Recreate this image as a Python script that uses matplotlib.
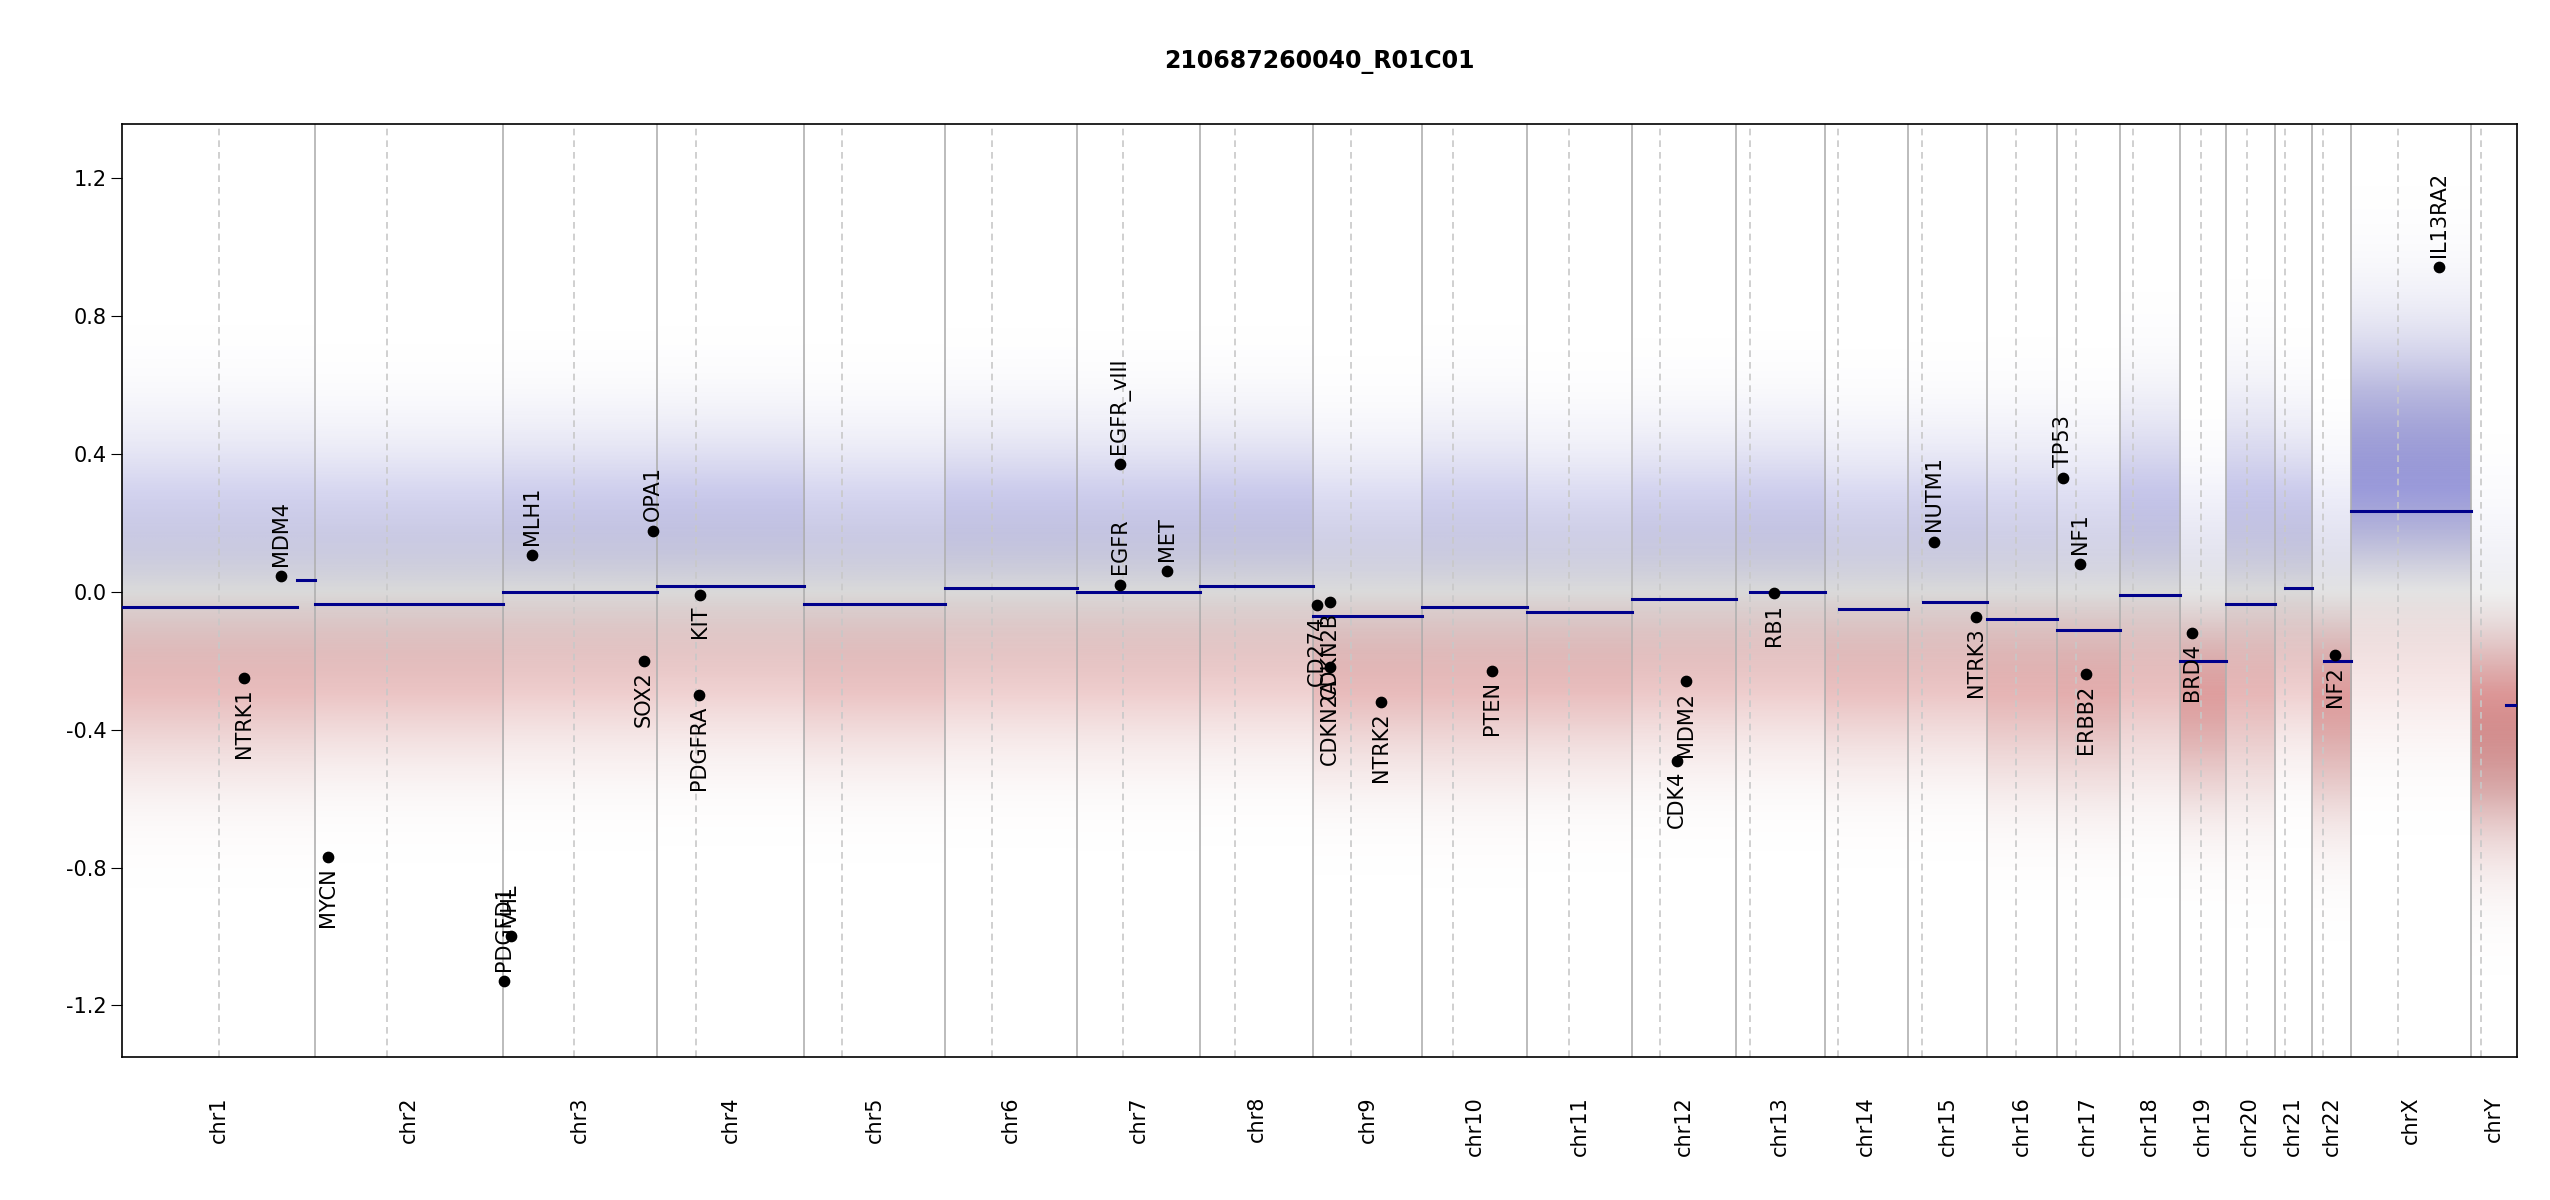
import numpy as np
import matplotlib
matplotlib.use("Agg")
import matplotlib.pyplot as plt
from matplotlib.colors import LinearSegmentedColormap

chroms = ["chr%d" % i for i in range(1, 23)] + ["chrX", "chrY"]
chrom_len = [249, 243, 198, 191, 181, 171, 159, 146, 141, 136, 135, 134, 115, 107,
             103, 90, 81, 78, 59, 63, 48, 51, 155, 59]
centro = [125, 93.3, 91, 50.4, 48.4, 61, 59.9, 45.6, 49, 40.2, 53.7, 35.8, 17.9, 17.6,
          19, 36.6, 24, 17.2, 26.5, 27.5, 13.2, 14.7, 60.6, 12.5]

# segments: chromosome, start (Mb), end (Mb), mean
seg_chrom = ["chr1", "chr1", "chr2", "chr3", "chr4", "chr5", "chr6", "chr7", "chr8", "chr9",
             "chr10", "chr11", "chr12", "chr13", "chr14", "chr15", "chr16", "chr17", "chr18",
             "chr19", "chr20", "chr21", "chr22", "chrX", "chrY"]
seg_start = [0, 225, 0, 0, 0, 0, 0, 0, 0, 0, 0, 0, 0, 19, 19, 20, 0, 0, 0, 0, 0, 14, 16, 0, 45]
seg_end = [225, 249, 243, 198, 191, 181, 171, 159, 146, 141, 136, 135, 134, 115, 107, 103,
           90, 81, 78, 59, 63, 48, 51, 155, 59]
seg_val = [-0.045, 0.035, -0.035, 0.0, 0.015, -0.035, 0.01, 0.0, 0.015, -0.07, -0.045, -0.06,
           -0.02, 0.0, -0.05, -0.03, -0.08, -0.11, -0.01, -0.2, -0.035, 0.01, -0.2, 0.235, -0.33]
# typical spread of bins around segment per chromosome
spread = [0.26, 0.24, 0.24, 0.24, 0.24, 0.24, 0.24, 0.24, 0.24, 0.26, 0.24, 0.24, 0.24, 0.24,
          0.24, 0.26, 0.26, 0.28, 0.24, 0.3, 0.24, 0.26, 0.3, 0.25, 0.24]

gene_names = ["NTRK1", "MDM4", "MYCN", "PDGFD1", "VHL", "MLH1", "SOX2", "OPA1", "KIT", "PDGFRA",
              "EGFR", "EGFR_vIII", "MET", "CD274", "CDKN2A", "CDKN2B", "NTRK2", "PTEN", "CDK4",
              "MDM2", "RB1", "NUTM1", "NTRK3", "TP53", "NF1", "ERBB2", "BRD4", "NF2", "IL13RA2"]
gene_chrom = ["chr1", "chr1", "chr2", "chr3", "chr3", "chr3", "chr3", "chr3", "chr4", "chr4",
              "chr7", "chr7", "chr7", "chr9", "chr9", "chr9", "chr9", "chr10", "chr12",
              "chr12", "chr13", "chr15", "chr15", "chr17", "chr17", "chr17", "chr19",
              "chr22", "chrX"]
gene_mb = [156.8, 204.5, 16.0, 1.0, 10.2, 37.0, 181.4, 193.3, 55.5, 55.1,
           55.1, 55.3, 116.3, 5.5, 21.9, 22.0, 87.3, 89.6, 58.1, 69.2, 49.0,
           34.6, 88.5, 7.6, 29.5, 37.9, 15.4, 29.9, 114.0]
gene_val = [-0.25, 0.045, -0.77, -1.13, -1.0, 0.105, -0.2, 0.175, -0.01, -0.3,
            0.02, 0.37, 0.06, -0.04, -0.22, -0.03, -0.32, -0.23, -0.49, -0.26, -0.005,
            0.145, -0.075, 0.33, 0.08, -0.24, -0.12, -0.185, 0.94]

offsets = np.concatenate([[0], np.cumsum(chrom_len)])
total = offsets[-1]

fig = plt.figure(figsize=(25.5, 12), dpi=100)
ax = fig.add_axes([0.048, 0.119, 0.939, 0.778])
ax.set_xlim(0, total)
ax.set_ylim(-1.35, 1.357)

cmap = LinearSegmentedColormap.from_list("cn", ["#8b0000", "#c04040", "#bbbbbb", "#4444bb", "#00008b"])
yy = np.linspace(-1.35, 1.357, 400)
for i, c in enumerate(chroms):
    s0, s1 = offsets[i], offsets[i + 1]
    base = [v for ch, v in zip(seg_chrom, seg_val) if ch == c][0]
    sd = spread[i]
    dens = np.exp(-0.5 * ((yy - base) / sd) ** 2)
    col = cmap(np.clip((yy + 0.6) / 1.2, 0, 1))
    col[:, 3] = 0.55 * dens
    img = np.repeat(col[:, None, :], 2, axis=1)
    ax.imshow(img, extent=[s0, s1, -1.35, 1.357], origin="lower", aspect="auto",
              interpolation="bilinear", zorder=1)

for i in range(len(chroms)):
    if i > 0:
        ax.axvline(offsets[i], color="#b0b0b0", lw=1.2, zorder=2)
    ax.axvline(offsets[i] + centro[i], color="#c8c8c8", lw=1.2, ls=(0, (4, 3)), zorder=2)

for c, a, b, v in zip(seg_chrom, seg_start, seg_end, seg_val):
    k = chroms.index(c)
    ax.plot([offsets[k] + a, offsets[k] + b], [v, v], color="#00008b", lw=2.2, zorder=4)

gene_x = [offsets[chroms.index(c)] + m for c, m in zip(gene_chrom, gene_mb)]
ax.scatter(gene_x, gene_val, s=55, color="black", zorder=5)
for n, p, v in zip(gene_names, gene_x, gene_val):
    if v >= 0 or v < -0.9:
        ax.text(p, v + 0.03, n, rotation=90, ha="center", va="bottom", fontsize=15, zorder=6)
    else:
        ax.text(p, v - 0.03, n, rotation=90, ha="center", va="top", fontsize=15, zorder=6)

mids = (offsets[:-1] + offsets[1:]) / 2
ax.set_xticks(mids)
ax.set_xticklabels(chroms, rotation=90, fontsize=15)
ax.tick_params(axis="x", length=0, pad=28)
yt = [-1.2, -0.8, -0.4, 0.0, 0.4, 0.8, 1.2]
ax.set_yticks(yt)
ax.set_yticklabels(["%.1f" % t for t in yt], fontsize=15)
ax.tick_params(axis="y", length=8)
for s in ax.spines.values():
    s.set_linewidth(1.2)
ax.set_title("210687260040_R01C01", fontsize=17, fontweight="bold", pad=40)
fig.savefig("out.png", dpi=100)
